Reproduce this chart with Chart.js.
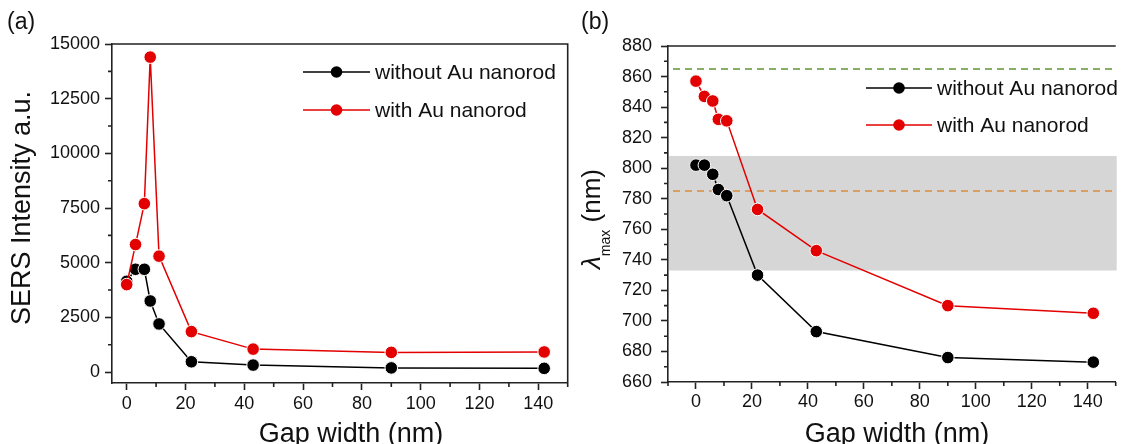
<!DOCTYPE html>
<html>
<head>
<meta charset="utf-8">
<script src="https://cdn.jsdelivr.net/npm/chart.js@4.4.1/dist/chart.umd.min.js"></script>
<style>
  html, body { margin: 0; padding: 0; background: #fff; overflow: hidden; }
  #wrap { position: relative; width: 1123px; height: 444px; }
  canvas { position: absolute; top: 0; }
</style>
</head>
<body>
<div id="wrap">
  <canvas id="chartA" width="575" height="444" style="left:0"></canvas>
  <canvas id="chartB" width="548" height="444" style="left:575px"></canvas>
</div>
<script>
// data
const gapWidth = [0, 3, 6, 8, 11, 22, 43, 90, 142];
const sersWithout = [4150, 4700, 4700, 3250, 2200, 470, 320, 190, 170];
const sersWith = [4000, 5830, 7700, 14400, 5300, 1850, 1050, 900, 920];
const lambdaWithout = [802, 802, 796, 786, 782, 730, 693, 676, 673];
const lambdaWith = [857, 847, 844, 832, 831, 773, 746, 710, 705];
const seriesNames = ['without Au nanorod', 'with Au nanorod'];

const xTicks = [0, 20, 40, 60, 80, 100, 120, 140];
const sersTicks = [0, 2500, 5000, 7500, 10000, 12500, 15000];
const lambdaTicks = [660, 680, 700, 720, 740, 760, 780, 800, 820, 840, 860, 880];

const bandRange = [733, 808];     // grey band, nm
const greenLevel = 865;           // dashed lines, nm
const orangeLevel = 785;

const FONT = '"Liberation Sans", Arial, sans-serif';
const AXIS = '#222';
const RED = '#e30000';
Chart.defaults.font.family = FONT;
Chart.defaults.color = '#111';

function toPoints(ys) {
  return gapWidth.map((x, i) => ({ x: x, y: ys[i] }));
}

function makeDatasets(without, withRod) {
  return [{
    label: seriesNames[0],
    data: toPoints(without),
    borderColor: '#000',
    backgroundColor: '#000',
    pointBackgroundColor: '#000',
    pointBorderColor: '#fff',
    pointBorderWidth: 1,
    pointRadius: 6.3,
    borderWidth: 1.5,
    tension: 0,
    order: 1
  }, {
    label: seriesNames[1],
    data: toPoints(withRod),
    borderColor: RED,
    backgroundColor: RED,
    pointBackgroundColor: RED,
    pointBorderColor: '#fff',
    pointBorderWidth: 1,
    pointRadius: 6.3,
    borderWidth: 1.5,
    tension: 0,
    order: 0
  }];
}

function axisOpts(min, max, ticks, fit, padding) {
  return {
    type: 'linear',
    min: min,
    max: max,
    afterBuildTicks: s => { s.ticks = ticks.map(v => ({ value: v })); },
    afterFit: fit,
    ticks: { font: { size: 18 }, color: '#111', padding: padding, maxRotation: 0, autoSkip: false, callback: v => String(v) },
    grid: { drawOnChartArea: false, tickLength: 7, tickWidth: 1.6, color: AXIS, tickColor: AXIS },
    border: { display: true, color: AXIS, width: 1.6 }
  };
}

// frame, minor ticks, titles, legend, band
const figurePlugin = {
  id: 'figure',
  beforeDatasetsDraw(chart, args, o) {
    if (!o.band) return;
    const { ctx, chartArea: a, scales: { y } } = chart;
    ctx.save();
    const top = y.getPixelForValue(o.band[1]);
    const bot = y.getPixelForValue(o.band[0]);
    ctx.fillStyle = '#d6d6d6';
    ctx.fillRect(a.left + 1, top, a.right - a.left, bot - top);
    ctx.lineWidth = 1.5;
    ctx.setLineDash([7, 5]);
    o.dashed.forEach(d => {
      const py = y.getPixelForValue(d.value);
      ctx.strokeStyle = d.color;
      ctx.beginPath();
      ctx.moveTo(a.left + 5, py);
      ctx.lineTo(a.right, py);
      ctx.stroke();
    });
    ctx.restore();
  },
  afterDraw(chart, args, o) {
    const { ctx, chartArea: a, scales: { x, y } } = chart;
    ctx.save();
    ctx.strokeStyle = AXIS;
    ctx.lineWidth = 1.6;
    ctx.beginPath();
    ctx.moveTo(a.left, a.top);
    ctx.lineTo(a.right, a.top);
    if (o.rightBorder) ctx.lineTo(a.right, a.bottom);
    ctx.stroke();

    // minor ticks
    ctx.beginPath();
    for (let k = Math.ceil(x.min / o.xMinor); k * o.xMinor <= x.max; k++) {
      const v = k * o.xMinor;
      if (xTicks.includes(v)) continue;
      const px = x.getPixelForValue(v);
      ctx.moveTo(px, a.bottom);
      ctx.lineTo(px, a.bottom + 4);
    }
    for (let k = Math.ceil(y.min / o.yMinor); k * o.yMinor <= y.max; k++) {
      const v = k * o.yMinor;
      if (o.yMajor.includes(v)) continue;
      const py = y.getPixelForValue(v);
      ctx.moveTo(a.left, py);
      ctx.lineTo(a.left - 4, py);
    }
    ctx.stroke();

    // panel label
    ctx.fillStyle = '#111';
    ctx.font = '23px ' + FONT;
    ctx.textAlign = 'left';
    ctx.textBaseline = 'alphabetic';
    ctx.fillText(o.panel, o.panelX, 29);

    // x title
    ctx.font = '27px ' + FONT;
    ctx.textAlign = 'center';
    ctx.fillText('Gap width (nm)', o.xTitleX, 442);

    // y title
    ctx.save();
    if (o.yTitle) {
      ctx.translate(o.yTitleX, o.yTitleY);
      ctx.rotate(-Math.PI / 2);
      ctx.textBaseline = 'middle';
      ctx.fillText(o.yTitle, 0, 0);
    } else {
      // lambda_max (nm)
      ctx.font = 'italic 26px ' + FONT;
      const wl = ctx.measureText('\u03bb').width;
      ctx.font = '14px ' + FONT;
      const wm = ctx.measureText('max').width;
      ctx.font = '26px ' + FONT;
      const wn = ctx.measureText(' (nm)').width;
      const total = wl + wm + wn;
      ctx.translate(o.yTitleX, o.yTitleY + total / 2);
      ctx.rotate(-Math.PI / 2);
      ctx.textAlign = 'left';
      ctx.textBaseline = 'alphabetic';
      ctx.font = 'italic 26px ' + FONT;
      ctx.fillText('\u03bb', 0, 0);
      ctx.font = '14px ' + FONT;
      ctx.fillText('max', wl, 10);
      ctx.font = '26px ' + FONT;
      ctx.fillText(' (nm)', wl + wm, 0);
    }
    ctx.restore();

    // legend
    const L = o.legend;
    chart.data.datasets.forEach((ds, i) => {
      const ly = L.y + i * L.dy;
      ctx.strokeStyle = ds.borderColor;
      ctx.lineWidth = 1.5;
      ctx.beginPath();
      ctx.moveTo(L.x1, ly);
      ctx.lineTo(L.x2, ly);
      ctx.stroke();
      ctx.fillStyle = ds.pointBackgroundColor;
      ctx.beginPath();
      ctx.arc((L.x1 + L.x2) / 2, ly, 5.8, 0, Math.PI * 2);
      ctx.fill();
      ctx.fillStyle = '#111';
      ctx.font = '21px ' + FONT;
      ctx.textAlign = 'left';
      ctx.textBaseline = 'middle';
      ctx.fillText(ds.label, L.tx, ly + 1);
    });
    ctx.restore();
  }
};

// (a) SERS intensity
new Chart(document.getElementById('chartA'), {
  type: 'line',
  data: { datasets: makeDatasets(sersWithout, sersWith) },
  options: {
    responsive: false,
    animation: false,
    layout: { padding: { top: 44, right: 4, left: 0, bottom: 0 } },
    scales: {
      x: axisOpts(-5, 150, xTicks, s => { s.height = 61; }, 3),
      y: axisOpts(-500, 15000, sersTicks, s => { s.width = 112; }, 5)
    },
    plugins: {
      legend: { display: false },
      tooltip: { enabled: false },
      figure: {
        panel: '(a)', panelX: 7, rightBorder: true,
        xMinor: 10, yMinor: 1250, yMajor: sersTicks,
        xTitleX: 351, yTitle: 'SERS Intensity a.u.', yTitleX: 23, yTitleY: 208,
        legend: { x1: 303, x2: 370, tx: 375, y: 72, dy: 38 }
      }
    }
  },
  plugins: [figurePlugin]
});

// (b) lambda max
new Chart(document.getElementById('chartB'), {
  type: 'line',
  data: { datasets: makeDatasets(lambdaWithout, lambdaWith) },
  options: {
    responsive: false,
    animation: false,
    layout: { padding: { top: 46, right: 0, left: 0, bottom: 0 } },
    scales: {
      x: axisOpts(-10, 150, xTicks, s => { s.height = 62; }, 2),
      y: axisOpts(660, 880, lambdaTicks, s => { s.width = 93; }, 9)
    },
    plugins: {
      legend: { display: false },
      tooltip: { enabled: false },
      figure: {
        panel: '(b)', panelX: 6, rightBorder: false,
        xMinor: 10, yMinor: 10, yMajor: lambdaTicks,
        band: bandRange,
        dashed: [{ value: greenLevel, color: '#5f9436' }, { value: orangeLevel, color: '#dc8a3c' }],
        xTitleX: 322, yTitle: null, yTitleX: 25, yTitleY: 219,
        legend: { x1: 291, x2: 357, tx: 362, y: 88, dy: 37 }
      }
    }
  },
  plugins: [figurePlugin]
});
</script>
</body>
</html>
